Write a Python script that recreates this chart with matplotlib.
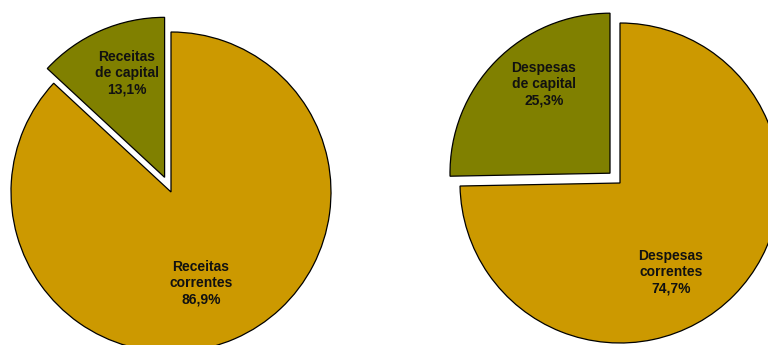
import matplotlib.pyplot as plt

plt.rcParams['font.family'] = ['Liberation Sans', 'DejaVu Sans']

# shares in percent, small slice first (drawn from 12 o'clock, counterclockwise)
receitas_labels = ['Receitas\nde capital', 'Receitas\ncorrentes']
receitas_vals = [13.1, 86.9]
despesas_labels = ['Despesas\nde capital', 'Despesas\ncorrentes']
despesas_vals = [25.3, 74.7]

colors = ['#808000', '#CC9900']

fig = plt.figure(figsize=(7.68, 3.45), dpi=100)
ax = fig.add_axes([0, 0, 1, 1])

W, H = 768, 345
R = 160


def fmt(v):
    return f'{v:.1f}'.replace('.', ',') + '%'


def draw_pie(vals, labels, center, explode, label_pos):
    # explode is in data units here (pixels), since radius is in pixels
    ax.pie(vals, colors=colors, startangle=90, counterclock=True,
           explode=[explode, 0], radius=R, center=center,
           wedgeprops=dict(edgecolor='black', linewidth=0.9))
    for lab, v, (x, y) in zip(labels, vals, label_pos):
        ax.text(x, H - y, f'{lab}\n{fmt(v)}', ha='center', va='center',
                fontsize=10, fontweight='bold', color='#111111',
                linespacing=1.2)


draw_pie(receitas_vals, receitas_labels, (171, H - 192), 16,
         [(127, 73), (201, 283)])
draw_pie(despesas_vals, despesas_labels, (620, H - 183), 14,
         [(544, 84), (671, 272)])

ax.set_xlim(0, W)
ax.set_ylim(0, H)
ax.set_aspect('equal')
ax.axis('off')

plt.savefig('out.png', dpi=100)
plt.close()
